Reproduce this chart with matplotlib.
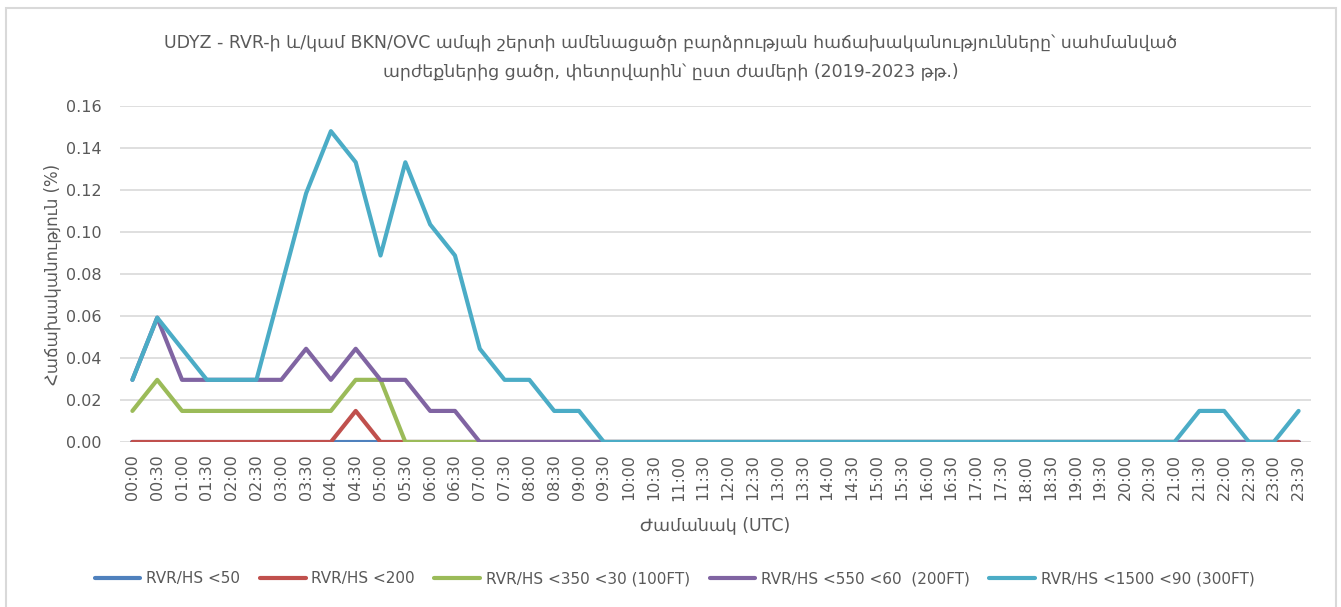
import numpy as np
import matplotlib.pyplot as plt
from matplotlib.patches import Rectangle

# ------------------------ data ------------------------
times = [f"{h:02d}:{m:02d}" for h in range(24) for m in (0, 30)]

rvr50 = [0.0] * 48
rvr200 = [0, 0, 0, 0, 0, 0, 0, 0, 0, 0.0148, 0, 0] + [0] * 36
rvr350 = [0.0148, 0.0296, 0.0148, 0.0148, 0.0148, 0.0148, 0.0148, 0.0148, 0.0148, 0.0296,
          0.0296, 0] + [0] * 35 + [np.nan]
rvr550 = [0.0296, 0.0592, 0.0296, 0.0296, 0.0296, 0.0296, 0.0296, 0.0444, 0.0296, 0.0444,
          0.0296, 0.0296, 0.0148, 0.0148, 0] + [0] * 32 + [np.nan]
rvr1500 = [0.0296, 0.0592, 0.0444, 0.0296, 0.0296, 0.0296, 0.074, 0.1184, 0.148, 0.1332,
           0.0888, 0.1332, 0.1036, 0.0888, 0.0444, 0.0296, 0.0296, 0.0148, 0.0148, 0,
           0, 0, 0, 0, 0, 0, 0, 0, 0, 0,
           0, 0, 0, 0, 0, 0, 0, 0, 0, 0,
           0, 0, 0, 0.0148, 0.0148, 0, 0, 0.0148]

labels = ["RVR/HS <50", "RVR/HS <200", "RVR/HS <350 <30 (100FT)",
          "RVR/HS <550 <60  (200FT)", "RVR/HS <1500 <90 (300FT)"]
colors = ["#4F81BD", "#C0504D", "#9BBB59", "#8064A2", "#4BACC6"]
series = [rvr50, rvr200, rvr350, rvr550, rvr1500]

title = ("UDYZ - RVR-ի և/կամ BKN/OVC ամպի շերտի ամենացածր բարձրության հաճախականությունները՝ սահմանված\n"
         "արժեքներից ցածր, փետրվարին՝ ըստ ժամերի (2019-2023 թթ.)")

# ------------------------------ plotting ---------------------------------
plt.rcParams['font.family'] = ['DejaVu Sans']
txt = "#595959"

fig = plt.figure(figsize=(13.41, 6.07), dpi=100)
ax = fig.add_axes([120 / 1341, 1 - 442 / 607, (1311 - 120) / 1341, (442 - 106) / 607])

x = np.arange(len(times))
for ys, c, lab in zip(series, colors, labels):
    ax.plot(x, ys, color=c, lw=3, label=lab, solid_capstyle='round', solid_joinstyle='round')

ax.set_xlim(-0.5, len(times) - 0.5)
ax.set_ylim(0, 0.16)
yt = np.arange(0, 0.161, 0.02)
ax.set_yticks(yt)
ax.set_yticklabels([f"{v:.2f}" for v in yt])
ax.set_xticks(x)
ax.set_xticklabels(times, rotation=90)
ax.tick_params(axis='both', length=0, labelsize=11.5, colors=txt)
ax.tick_params(axis='x', pad=9)
ax.tick_params(axis='y', pad=13)
ax.yaxis.grid(True, color="#D9D9D9", lw=1.2)
ax.set_axisbelow(True)
for s in ax.spines.values():
    s.set_visible(False)

ax.set_xlabel("Ժամանակ (UTC)", color=txt, fontsize=12.5, labelpad=11)
ax.set_ylabel("Հաճախականություն (%)", color=txt, fontsize=12, labelpad=4)
fig.text(0.5, 1 - 57 / 607, title, ha='center', va='center', color=txt, fontsize=12.5,
         linespacing=1.7)

leg = fig.legend(loc='center', bbox_to_anchor=(0.503, 1 - 579 / 607), ncol=5, frameon=False,
                 fontsize=11, handlelength=3.0, columnspacing=1.3, handletextpad=0.35)
for t in leg.get_texts():
    t.set_color(txt)

# chart area border
fig.patches.append(Rectangle((6 / 1341, -0.01), 1330 / 1341, 1 - 8 / 607 + 0.01,
                             transform=fig.transFigure, fill=False, ec="#D9D9D9", lw=1.5))

fig.savefig("out.png", dpi=100)
